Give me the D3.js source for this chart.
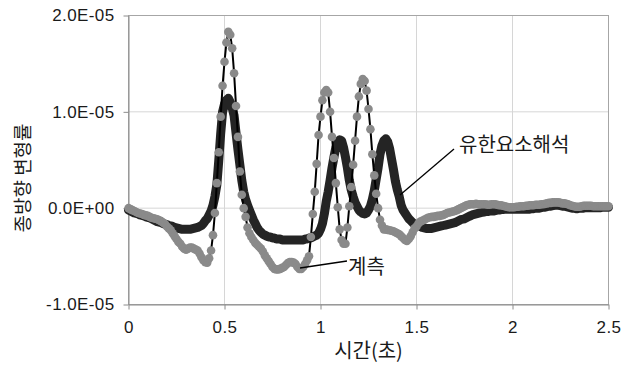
<!DOCTYPE html>
<html>
<head>
<meta charset="utf-8">
<script src="https://cdn.jsdelivr.net/npm/d3@7"></script>
<style>
  body { margin: 0; background: #fff; }
  text { font-family: "Liberation Sans", Arial, sans-serif; fill: #1a1a1a; }
  .kr { font-family: "Noto Sans CJK KR", sans-serif; }
</style>
</head>
<body>
<div id="chart"></div>
<script>
var width = 635,
    height = 365;

// sample step (s) and value unit of both series
var dt = 0.01,
    unit = 1e-5;

// 계측 (measured), x1e-5, t = 0 .. 2.5 every 0.01 s
var measured = [
  0.00, -0.01, -0.02, -0.03, -0.04, -0.05, -0.055, -0.06, -0.07, -0.075,
  -0.08, -0.09, -0.10, -0.105, -0.11, -0.115, -0.125, -0.135, -0.15, -0.165,
  -0.19, -0.21, -0.23, -0.26, -0.29, -0.32, -0.35, -0.37, -0.40, -0.42,
  -0.43, -0.42, -0.41, -0.41, -0.42, -0.43, -0.44, -0.47, -0.51, -0.54,
  -0.56, -0.565, -0.52, -0.44, -0.28, -0.05, 0.26, 0.58, 0.95, 1.27,
  1.52, 1.72, 1.83, 1.80, 1.66, 1.40, 1.06, 0.74, 0.38, 0.14,
  0.00, -0.09, -0.20, -0.26, -0.30, -0.33, -0.36, -0.38, -0.40, -0.42,
  -0.45, -0.49, -0.52, -0.55, -0.58, -0.61, -0.63, -0.635, -0.635, -0.63,
  -0.62, -0.61, -0.59, -0.57, -0.56, -0.56, -0.565, -0.58, -0.61, -0.63,
  -0.63, -0.61, -0.58, -0.54, -0.50, -0.30, -0.06, 0.17, 0.46, 0.76,
  0.95, 1.12, 1.20, 1.225, 1.20, 1.00, 0.74, 0.52, 0.26, 0.01,
  -0.22, -0.33, -0.37, -0.37, -0.20, 0.02, 0.22, 0.45, 0.70, 0.95,
  1.16, 1.29, 1.34, 1.32, 1.22, 1.03, 0.82, 0.56, 0.34, 0.15,
  0.00, -0.12, -0.18, -0.22, -0.22, -0.225, -0.23, -0.235, -0.24, -0.25,
  -0.26, -0.27, -0.29, -0.31, -0.33, -0.34, -0.32, -0.29, -0.25, -0.21,
  -0.19, -0.16, -0.14, -0.13, -0.12, -0.11, -0.10, -0.095, -0.09, -0.09,
  -0.085, -0.08, -0.08, -0.075, -0.07, -0.06, -0.05, -0.045, -0.04, -0.035,
  -0.03, -0.02, -0.01, 0.00, 0.01, 0.02, 0.03, 0.035, 0.04, 0.04,
  0.04, 0.045, 0.04, 0.04, 0.04, 0.04, 0.04, 0.035, 0.035, 0.04,
  0.04, 0.04, 0.035, 0.03, 0.03, 0.025, 0.02, 0.015, 0.01, 0.01,
  0.01, 0.01, 0.015, 0.015, 0.02, 0.02, 0.02, 0.025, 0.025, 0.03,
  0.03, 0.03, 0.035, 0.035, 0.035, 0.04, 0.04, 0.045, 0.05, 0.055,
  0.055, 0.06, 0.06, 0.06, 0.06, 0.055, 0.05, 0.05, 0.045, 0.04,
  0.03, 0.025, 0.02, 0.015, 0.015, 0.015, 0.02, 0.025, 0.025, 0.025,
  0.025, 0.025, 0.02, 0.02, 0.02, 0.02, 0.02, 0.02, 0.02, 0.02, 0.02
];

// 유한요소해석 (finite element analysis), x1e-5, same time steps
var fem = [
  -0.02, -0.03, -0.04, -0.05, -0.055, -0.06, -0.07, -0.075, -0.08, -0.09,
  -0.095, -0.10, -0.11, -0.12, -0.13, -0.14, -0.145, -0.15, -0.16, -0.165,
  -0.17, -0.18, -0.185, -0.19, -0.20, -0.205, -0.21, -0.215, -0.22, -0.22,
  -0.22, -0.22, -0.22, -0.215, -0.21, -0.205, -0.20, -0.19, -0.18, -0.16,
  -0.13, -0.11, -0.07, -0.03, 0.03, 0.12, 0.24, 0.49, 0.77, 1.00,
  1.08, 1.12, 1.14, 1.10, 1.04, 0.96, 0.78, 0.61, 0.45, 0.29,
  0.17, 0.09, 0.03, -0.02, -0.07, -0.12, -0.16, -0.20, -0.23, -0.25,
  -0.27, -0.28, -0.29, -0.30, -0.30, -0.31, -0.31, -0.32, -0.32, -0.32,
  -0.33, -0.33, -0.33, -0.33, -0.33, -0.33, -0.33, -0.33, -0.33, -0.33,
  -0.33, -0.33, -0.32, -0.32, -0.31, -0.31, -0.30, -0.29, -0.28, -0.26,
  -0.22, -0.16, -0.06, 0.07, 0.17, 0.29, 0.42, 0.53, 0.63, 0.685,
  0.71, 0.70, 0.63, 0.53, 0.42, 0.29, 0.19, 0.12, 0.06, 0.02,
  -0.02, -0.04, -0.055, -0.06, -0.05, -0.02, 0.02, 0.09, 0.18, 0.30,
  0.42, 0.56, 0.65, 0.70, 0.72, 0.69, 0.62, 0.51, 0.40, 0.28,
  0.19, 0.12, 0.03, -0.02, -0.05, -0.08, -0.11, -0.13, -0.15, -0.165,
  -0.175, -0.18, -0.19, -0.20, -0.205, -0.21, -0.21, -0.21, -0.21, -0.205,
  -0.20, -0.195, -0.19, -0.185, -0.18, -0.175, -0.17, -0.165, -0.16, -0.155,
  -0.15, -0.14, -0.13, -0.12, -0.115, -0.11, -0.10, -0.09, -0.08, -0.07,
  -0.065, -0.06, -0.055, -0.05, -0.045, -0.04, -0.035, -0.035, -0.03, -0.03,
  -0.03, -0.025, -0.02, -0.02, -0.015, -0.015, -0.01, -0.01, -0.01, -0.01,
  -0.01, -0.01, -0.01, -0.01, -0.01, -0.01, -0.01, -0.01, -0.01, -0.01,
  -0.005, -0.005, 0.00, 0.00, 0.00, 0.005, 0.01, 0.01, 0.015, 0.02,
  0.02, 0.025, 0.03, 0.03, 0.03, 0.025, 0.02, 0.02, 0.015, 0.01,
  0.005, 0.00, 0.00, -0.005, -0.005, 0.00, 0.00, 0.00, 0.005, 0.005,
  0.005, 0.005, 0.005, 0.005, 0.005, 0.005, 0.005, 0.01, 0.01, 0.01, 0.01
];

var xTicks = [0, 0.5, 1, 1.5, 2, 2.5];
var yTicks = [-1e-5, 0, 1e-5, 2e-5];
var xTitle = "시간(초)",
    yTitle = "종방향 변형률",
    femLabel = "유한요소해석",
    measuredLabel = "계측";

var x = d3.scaleLinear().domain([0, 2.5]).range([128.5, 608.5]);
var y = d3.scaleLinear().domain([-1e-5, 2e-5]).range([304.5, 15.5]);

function sci(v) {
  if (v === 0) return "0.0E+00";
  var e = Math.floor(Math.log10(Math.abs(v)) + 1e-9),
      m = v / Math.pow(10, e),
      s = e < 0 ? "-" : "+";
  return m.toFixed(1) + "E" + s + ("0" + Math.abs(e)).slice(-2);
}

var svg = d3.select("#chart").append("svg")
    .attr("width", width)
    .attr("height", height);

// grid
svg.append("g").selectAll("line")
    .data(yTicks.filter(function(d) { return d > -1e-5 && d < 2e-5; }))
  .enter().append("line")
    .attr("x1", x(0)).attr("x2", x(2.5))
    .attr("y1", function(d) { return y(d); })
    .attr("y2", function(d) { return y(d); })
    .attr("stroke", "#d6d6d6");

svg.append("g").selectAll("line")
    .data(xTicks.filter(function(d) { return d > 0 && d < 2.5; }))
  .enter().append("line")
    .attr("y1", y(-1e-5)).attr("y2", y(2e-5))
    .attr("x1", function(d) { return x(d); })
    .attr("x2", function(d) { return x(d); })
    .attr("stroke", "#d6d6d6");

// plot frame
svg.append("rect")
    .attr("x", x(0)).attr("y", y(2e-5))
    .attr("width", x(2.5) - x(0))
    .attr("height", y(-1e-5) - y(2e-5))
    .attr("fill", "none")
    .attr("stroke", "#a6a6a6");

// axes
var yAxis = svg.append("g")
    .attr("transform", "translate(" + x(0) + ",0)")
    .call(d3.axisLeft(y).tickValues(yTicks).tickFormat(sci)
      .tickSize(5).tickSizeOuter(0).tickPadding(9));

var xAxis = svg.append("g")
    .attr("transform", "translate(0," + y(-1e-5) + ")")
    .call(d3.axisBottom(x).tickValues(xTicks).tickFormat(d3.format("~g"))
      .tickSize(5).tickSizeOuter(0).tickPadding(11));

[yAxis, xAxis].forEach(function(a) {
  a.select(".domain").attr("stroke", "#8c8c8c");
  a.selectAll(".tick line").attr("stroke", "#8c8c8c");
  a.selectAll(".tick text")
      .style("font-size", "17px")
      .style("letter-spacing", "0.4px")
      .attr("fill", "#1a1a1a");
});

// series
var line = d3.line()
    .x(function(d, i) { return x(i * dt); })
    .y(function(d) { return y(d * unit); });

svg.append("path")
    .datum(fem)
    .attr("d", line)
    .attr("fill", "none")
    .attr("stroke", "#242424")
    .attr("stroke-width", 9)
    .attr("stroke-linejoin", "round")
    .attr("stroke-linecap", "round");

svg.append("path")
    .datum(measured)
    .attr("d", line)
    .attr("fill", "none")
    .attr("stroke", "#000")
    .attr("stroke-width", 2);

svg.append("g").selectAll("circle")
    .data(measured)
  .enter().append("circle")
    .attr("cx", function(d, i) { return x(i * dt); })
    .attr("cy", function(d) { return y(d * unit); })
    .attr("r", 4.3)
    .attr("fill", "#8a8a8a");

// titles
svg.append("text")
    .attr("class", "kr")
    .attr("x", (x(0) + x(2.5)) / 2)
    .attr("y", 358)
    .attr("text-anchor", "middle")
    .style("font-size", "20px")
    .text(xTitle);

svg.append("text")
    .attr("class", "kr")
    .attr("transform", "translate(30,178)rotate(-90)")
    .attr("text-anchor", "middle")
    .style("font-size", "19px")
    .text(yTitle);

// annotations
svg.append("line")
    .attr("x1", 454).attr("y1", 149)
    .attr("x2", 400).attr("y2", 195)
    .attr("stroke", "#000").attr("stroke-width", 1.3);

svg.append("text")
    .attr("class", "kr")
    .attr("x", 459).attr("y", 152)
    .style("font-size", "20px")
    .text(femLabel);

svg.append("line")
    .attr("x1", 347).attr("y1", 261)
    .attr("x2", 300).attr("y2", 268)
    .attr("stroke", "#000").attr("stroke-width", 1.3);

svg.append("text")
    .attr("class", "kr")
    .attr("x", 348).attr("y", 274)
    .style("font-size", "20px")
    .text(measuredLabel);
</script>
</body>
</html>
